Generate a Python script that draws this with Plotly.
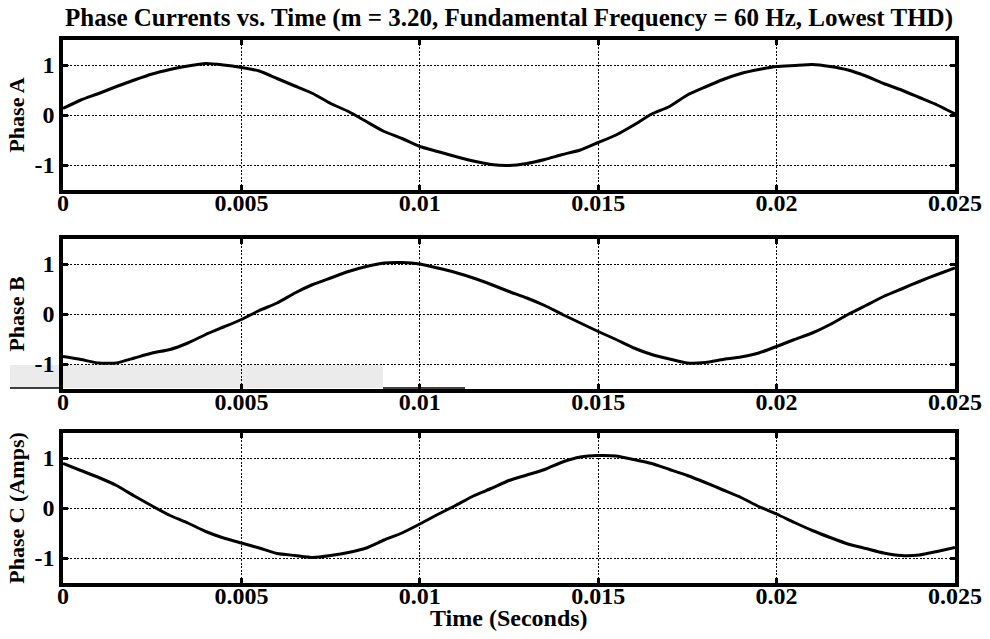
import plotly.graph_objects as go

# Sample times (seconds)
time_s = [i * 0.0005 for i in range(51)]

# Measured phase currents (Amps), one sample every 0.5 ms
phase_a = [0.13, 0.30, 0.43, 0.57, 0.70, 0.82, 0.91, 0.98, 1.03, 1.00,
           0.95, 0.88, 0.73, 0.58, 0.43, 0.23, 0.07, -0.13, -0.33, -0.47,
           -0.63, -0.73, -0.83, -0.92, -0.99, -1.01, -0.97, -0.89, -0.79, -0.70,
           -0.55, -0.40, -0.20, 0.02, 0.17, 0.40, 0.56, 0.71, 0.83, 0.91,
           0.97, 0.99, 1.01, 0.97, 0.90, 0.78, 0.63, 0.50, 0.35, 0.20,
           0.02]
phase_b = [-0.85, -0.91, -0.98, -0.98, -0.88, -0.78, -0.71, -0.58, -0.41, -0.26,
           -0.11, 0.07, 0.22, 0.42, 0.59, 0.72, 0.85, 0.95, 1.02, 1.03,
           1.00, 0.92, 0.83, 0.72, 0.59, 0.45, 0.32, 0.17, -0.01, -0.18,
           -0.35, -0.51, -0.68, -0.81, -0.90, -0.98, -0.97, -0.91, -0.86, -0.78,
           -0.65, -0.51, -0.38, -0.21, -0.01, 0.17, 0.35, 0.50, 0.65, 0.79,
           0.92]
phase_c = [0.89, 0.75, 0.61, 0.45, 0.24, 0.04, -0.15, -0.30, -0.47, -0.60,
           -0.70, -0.80, -0.91, -0.95, -0.99, -0.95, -0.89, -0.80, -0.64, -0.50,
           -0.32, -0.13, 0.05, 0.24, 0.39, 0.55, 0.66, 0.77, 0.92, 1.02,
           1.05, 1.04, 0.97, 0.89, 0.77, 0.65, 0.51, 0.36, 0.21, 0.03,
           -0.12, -0.29, -0.45, -0.59, -0.72, -0.81, -0.90, -0.95, -0.94, -0.87,
           -0.79]

x_ticks = [0, 0.005, 0.01, 0.015, 0.02, 0.025]
x_tick_text = ["0", "0.005", "0.01", "0.015", "0.02", "0.025"]
y_ticks = [-1, 0, 1]
y_tick_text = ["-1", "0", "1"]
panel_titles = ["Phase A", "Phase B", "Phase C (Amps)"]
series = [phase_a, phase_b, phase_c]

FONT = "Liberation Serif"
W, H = 990, 639
L, R, T, B = 63, 35, 40, 56
plot_w = W - L - R
plot_h = H - T - B
# pixel extents (top, bottom) of each panel
panel_px = [(40, 190), (239, 389), (433, 583)]


def px_x(p):
    return (p - L) / plot_w


def px_y(p):
    return (H - B - p) / plot_h


fig = go.Figure()
for i, ys in enumerate(series):
    n = "" if i == 0 else str(i + 1)
    fig.add_trace(go.Scatter(
        x=time_s, y=ys, mode="lines", xaxis="x" + n, yaxis="y" + n,
        line=dict(color="black", width=3, shape="spline", smoothing=0.5),
        showlegend=False, hoverinfo="skip"))

axis_common = dict(showline=True, linewidth=3.5, linecolor="black", mirror="allticks",
                   ticks="inside", ticklen=5, tickwidth=2.5, tickcolor="black",
                   showgrid=True, gridcolor="black", gridwidth=1.3, griddash="2px,1.6px",
                   zeroline=False, automargin=False,
                   tickfont=dict(family=FONT, size=24, color="black"))

layout = dict(width=W, height=H, paper_bgcolor="white", plot_bgcolor="white",
              margin=dict(l=L, r=R, t=T, b=B, autoexpand=False),
              title=dict(text="<b>Phase Currents vs. Time (m = 3.20, Fundamental Frequency = 60 Hz, Lowest THD)</b>",
                         font=dict(family=FONT, size=25, color="black"),
                         x=(L + (W - R)) / 2 / W, xanchor="center", y=1 - 17 / H, yanchor="middle"),
              font=dict(family=FONT, color="black"))

for i, (top, bot) in enumerate(panel_px):
    n = "" if i == 0 else str(i + 1)
    xa = dict(axis_common, domain=[0, 1], range=[0, 0.025], anchor="y" + n,
              tickvals=x_ticks, ticktext=["<b>%s</b>" % t for t in x_tick_text],
              ticklabelstandoff=-12)
    if i > 0:
        xa["matches"] = "x"
    ya = dict(axis_common, domain=[px_y(bot), px_y(top)], range=[-1.5, 1.5], anchor="x" + n,
              tickvals=y_ticks, ticktext=["<b>%s</b>" % t for t in y_tick_text],
              title=dict(text="<b>%s</b>" % panel_titles[i], font=dict(family=FONT, size=22), standoff=5))
    layout["xaxis" + n] = xa
    layout["yaxis" + n] = ya

# shared time-axis label under the bottom panel
layout["annotations"] = [
    dict(text="<b>Time (Seconds)</b>", xref="paper", yref="paper",
         x=0.5, y=px_y(618), xanchor="center", yanchor="middle", showarrow=False,
         font=dict(family=FONT, size=24, color="black"))
]

# faint grey patch and stray rule along the bottom of the middle panel
layout["shapes"] = [
    dict(type="rect", xref="paper", yref="paper", layer="below",
         x0=px_x(10), x1=px_x(383), y0=px_y(388), y1=px_y(365),
         fillcolor="#ebebeb", line=dict(width=0)),
    dict(type="line", xref="paper", yref="paper", layer="above",
         x0=px_x(10), x1=px_x(63), y0=px_y(388), y1=px_y(388),
         line=dict(color="black", width=1.5)),
    dict(type="line", xref="paper", yref="paper", layer="above",
         x0=px_x(383), x1=px_x(465), y0=px_y(388), y1=px_y(388),
         line=dict(color="black", width=1.5)),
]

fig.update_layout(**layout)
fig.write_html("out.html")
